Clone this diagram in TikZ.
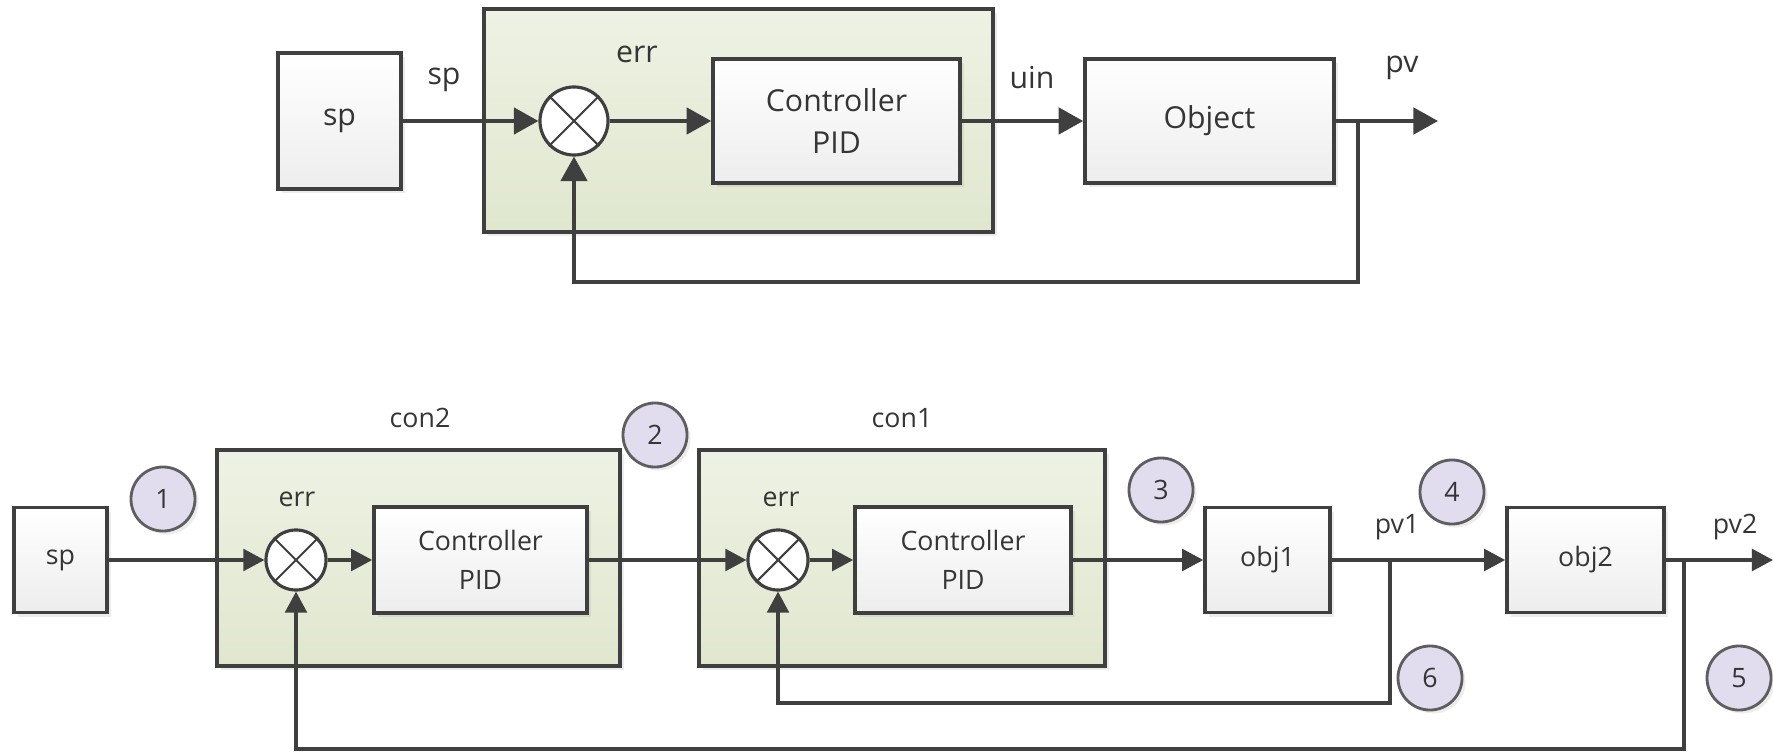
\documentclass[tikz,border=0pt]{standalone}
\usepackage{fontspec}
\setmainfont{Open Sans}
\usetikzlibrary{arrows.meta,shadows}
\definecolor{linegray}{HTML}{3F3F3F}
\definecolor{textgray}{HTML}{353535}
\definecolor{groupgreen}{HTML}{E0E7CE}
\definecolor{markerfill}{HTML}{E1DDEE}
\definecolor{markerline}{HTML}{5E5E5E}
\begin{document}
\begin{tikzpicture}[x=0.01cm, y=-0.01cm,
	every node/.style={text=textgray},
	topfont/.style={font=\fontsize{8.6}{11}\selectfont},
	botfont/.style={font=\fontsize{7.6}{10}\selectfont},
	block/.style={draw=linegray, line width=1pt, rectangle, top color=white, bottom color=black!7, align=center, drop shadow={shadow xshift=1.2pt, shadow yshift=-1.2pt, opacity=0.15}},
	group/.style={draw=linegray, line width=1pt, rectangle, top color=groupgreen!55, bottom color=groupgreen, drop shadow={shadow xshift=1.2pt, shadow yshift=-1.2pt, opacity=0.15}},
	sumnode/.style={draw=linegray, line width=0.9pt, circle, fill=white, inner sep=0pt},
	xline/.style={draw=linegray, line width=0.6pt},
	marker/.style={draw=markerline, line width=0.8pt, circle, fill=markerfill, minimum size=0.64cm, inner sep=0pt, botfont, drop shadow={shadow xshift=1pt, shadow yshift=-1pt, opacity=0.15}},
	sig/.style={inner sep=1pt},
	flowtop/.style={draw=linegray, line width=1.1pt, -{Triangle[length=7pt, width=7.5pt]}},
	flowbot/.style={draw=linegray, line width=0.9pt, -{Triangle[length=6pt, width=6.2pt]}},
	wiretop/.style={draw=linegray, line width=1.1pt},
	wirebot/.style={draw=linegray, line width=0.9pt}]
	\useasboundingbox (0,0) rectangle (1773,752);

	% single loop
	\node[group, minimum width=5.09cm, minimum height=2.23cm] (conA) at (738.5,120.5) {};
	\node[block, topfont, minimum width=1.23cm, minimum height=1.36cm] (spA) at (339.5,121) {sp};
	\node[sumnode, minimum size=0.68cm] (sumA) at (574,121) {};
	\node[block, topfont, minimum width=2.47cm, minimum height=1.24cm] (pidA) at (836.5,121) {Controller\\[1pt]PID};
	\node[block, topfont, minimum width=2.49cm, minimum height=1.24cm] (objA) at (1209.5,121) {Object};
	\coordinate (jA) at (1358,121);
	\coordinate (outA) at (1438,121);
	\coordinate (fbA) at (1358,282);
	\node[sig, topfont] (spLabA) at (444,80) {sp};
	\node[sig, topfont] (errLabA) at (637,54) {err};
	\node[sig, topfont] (uinLabA) at (1032,78) {uin};
	\node[sig, topfont] (pvLabA) at (1402,68) {pv};
	\draw[xline] (sumA.45) -- (sumA.225) (sumA.135) -- (sumA.315);
	\draw[flowtop] (spA) -- (sumA);
	\draw[flowtop] (sumA) -- (pidA);
	\draw[flowtop] (pidA) -- (objA);
	\draw[flowtop] (objA) -- (outA);
	\draw[flowtop] (jA) -- (fbA) -| (sumA.south);

	% cascade
	\node[group, minimum width=4.03cm, minimum height=2.16cm] (con2) at (418.5,558) {};
	\node[group, minimum width=4.06cm, minimum height=2.16cm] (con1) at (902,558) {};
	\node[block, botfont, minimum width=0.93cm, minimum height=1.05cm] (spB) at (60.5,560) {sp};
	\node[sumnode, minimum size=0.60cm] (sum2) at (296,560) {};
	\node[block, botfont, minimum width=2.13cm, minimum height=1.06cm] (pid2) at (480.5,560) {Controller\\[1pt]PID};
	\node[sumnode, minimum size=0.60cm] (sum1) at (778,560) {};
	\node[block, botfont, minimum width=2.16cm, minimum height=1.06cm] (pid1) at (963,560) {Controller\\[1pt]PID};
	\node[block, botfont, minimum width=1.25cm, minimum height=1.05cm] (obj1) at (1267.5,560) {obj1};
	\node[block, botfont, minimum width=1.57cm, minimum height=1.05cm] (obj2) at (1585.5,560) {obj2};
	\coordinate (jB1) at (1390,560);
	\coordinate (jB2) at (1684,560);
	\coordinate (outB) at (1773,560);
	\coordinate (fbB1) at (1390,703);
	\coordinate (fbB2) at (1684,749);
	\node[sig, botfont] (con2Lab) at (420,418) {con2};
	\node[sig, botfont] (con1Lab) at (902,418) {con1};
	\node[sig, botfont] (errLab2) at (297,499) {err};
	\node[sig, botfont] (errLab1) at (781,499) {err};
	\node[sig, botfont] (pv1Lab) at (1397,527) {pv1};
	\node[sig, botfont] (pv2Lab) at (1735,527) {pv2};
	\node[marker] (m1) at (163,499) {1};
	\node[marker] (m2) at (655,435) {2};
	\node[marker] (m3) at (1161,490) {3};
	\node[marker] (m4) at (1452,492) {4};
	\node[marker] (m5) at (1739,678) {5};
	\node[marker] (m6) at (1430,678) {6};
	\draw[xline] (sum2.45) -- (sum2.225) (sum2.135) -- (sum2.315);
	\draw[xline] (sum1.45) -- (sum1.225) (sum1.135) -- (sum1.315);
	\draw[flowbot] (spB) -- (sum2);
	\draw[flowbot] (sum2) -- (pid2);
	\draw[flowbot] (pid2) -- (sum1);
	\draw[flowbot] (sum1) -- (pid1);
	\draw[flowbot] (pid1) -- (obj1);
	\draw[flowbot] (obj1) -- (obj2);
	\draw[flowbot] (obj2) -- (outB);
	\draw[flowbot] (jB1) -- (fbB1) -| (sum1.south);
	\draw[flowbot] (jB2) -- (fbB2) -| (sum2.south);
\end{tikzpicture}
\end{document}
